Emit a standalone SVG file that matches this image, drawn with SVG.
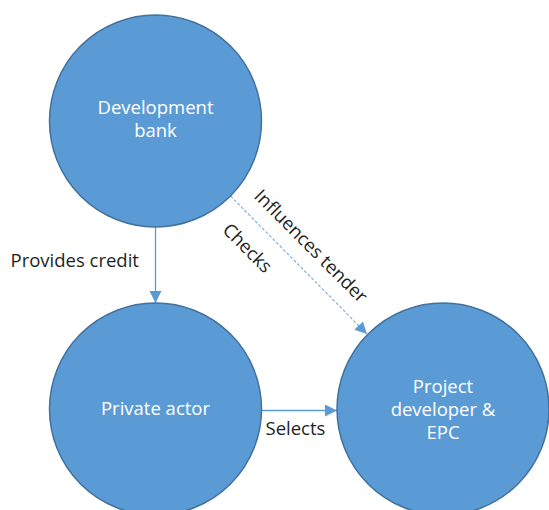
<svg xmlns="http://www.w3.org/2000/svg" width="549" height="510" viewBox="0 0 549 510">
<defs>
<style>
.node{fill:#5B9BD5;stroke:#41719C;stroke-width:1.5}
.nt{font-family:"Open Sans","Liberation Sans",sans-serif;font-size:18.5px;fill:#FFFFFF;text-anchor:middle}
.lbl{font-family:"Open Sans","Liberation Sans",sans-serif;font-size:18.5px;fill:#1F1F1F}
.conn{stroke:#5B9BD5;stroke-width:1.3;fill:none}
.dash{stroke:#7FB0DE;stroke-width:1.2;fill:none;stroke-dasharray:3 2}
</style>
<marker id="ah" viewBox="0 0 12 12" refX="12" refY="6" markerWidth="12" markerHeight="12" markerUnits="userSpaceOnUse" orient="auto">
<path d="M0,0 L12,6 L0,12 Z" fill="#5B9BD5"/>
</marker>
</defs>
<rect width="549" height="510" fill="#FFFFFF"/>
<g id="connectors">
<line class="conn" x1="155.5" y1="227" x2="155.5" y2="303" marker-end="url(#ah)"/>
<line class="conn" x1="261.5" y1="410.5" x2="337" y2="410.5" marker-end="url(#ah)"/>
<line class="dash" x1="230.5" y1="196" x2="367" y2="334" marker-end="url(#ah)"/>
<text class="lbl" x="10.5" y="266.5">Provides credit</text>
<text class="lbl" x="265.5" y="435">Selects</text>
<text class="lbl" text-anchor="middle" transform="translate(311,246) rotate(45)" dy="0.35em">Influences tender</text>
<text class="lbl" text-anchor="middle" transform="translate(247.5,248) rotate(45)" dy="0.35em">Checks</text>
</g>
<g id="node-development-bank">
<circle class="node" cx="155.5" cy="121" r="106"/>
<text class="nt" x="155.5" y="114">Development</text>
<text class="nt" x="155.5" y="137">bank</text>
</g>
<g id="node-private-actor">
<circle class="node" cx="155.5" cy="409" r="106"/>
<text class="nt" x="155.5" y="415">Private actor</text>
</g>
<g id="node-project-developer">
<circle class="node" cx="443" cy="409" r="106"/>
<text class="nt" x="443" y="393">Project</text>
<text class="nt" x="443" y="416">developer &amp;</text>
<text class="nt" x="443" y="439">EPC</text>
</g>
</svg>
